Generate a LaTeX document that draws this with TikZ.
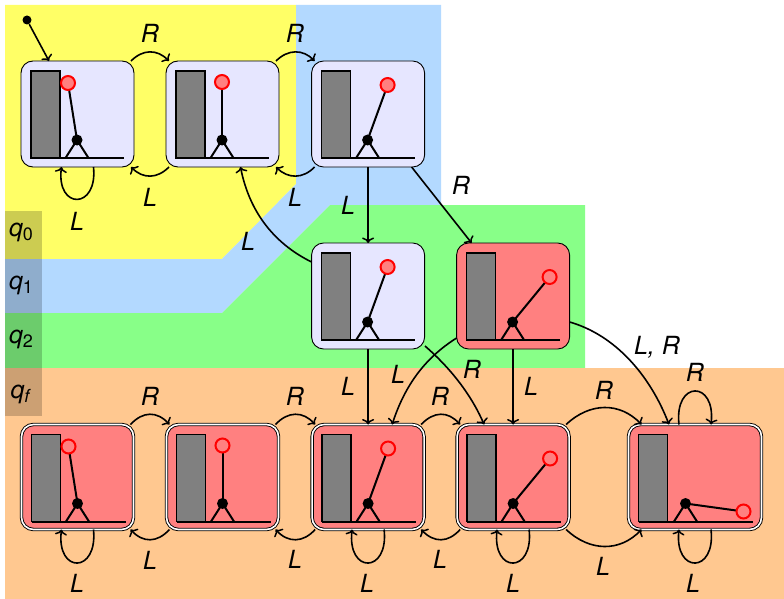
\documentclass[tikz,border=0pt]{standalone}
\usepackage{fontspec}
\setmainfont{TeX Gyre Heros}
\usetikzlibrary{arrows.meta,calc}
\definecolor{ylw}{HTML}{FFFF66}
\definecolor{blu}{HTML}{B3D9FF}
\definecolor{grn}{HTML}{88FF88}
\definecolor{org}{HTML}{FFC890}
\definecolor{lav}{HTML}{E6E6FF}
\definecolor{pnk}{HTML}{FF8080}
\tikzset{
  st/.style={draw=black,line width=0.9pt,rounded corners=12pt,minimum width=113pt,minimum height=106pt,inner sep=0pt,outer sep=0pt},
  plainst/.style={st,fill=lav},
  badst/.style={st,fill=pnk},
  finalst/.style={st,fill=pnk,double=white,double distance=1.6pt,minimum width=112pt,minimum height=105pt},
  arr/.style={line width=1.6pt,-{Computer Modern Rightarrow[length=5.5pt,width=12pt,line width=1.5pt]}},
  lbl/.style={font=\fontsize{25}{25}\selectfont\itshape,inner sep=0pt},
  qlbl/.style={font=\fontsize{25}{25}\selectfont\itshape,inner sep=0pt},
  sidebox/.style={fill=black,fill opacity=0.2,draw=none,minimum width=37pt,inner sep=0pt,outer sep=0pt},
  wallbar/.style={draw=black,line width=1.7pt,fill=black!50},
  rod/.style={line width=2pt,black},
  pivotdot/.style={circle,fill=black,inner sep=0pt,minimum size=11pt},
  bob/.style={circle,draw=red,line width=2pt,minimum size=14pt,inner sep=0pt},
}
% #1 node name, #2 bob dx, #3 bob dy, #4 bob fill, #5 pivot dx, #6 ground length
\newcommand{\pend}[6]{
  \draw[wallbar] ($(#1.north west)+(10,10)$) rectangle ($(#1.north west)+(39,97)$);
  \draw[rod] ($(#1.north west)+(10,97)$) -- ($(#1.north west)+(#6,97)$);
  \draw[rod] ($(#1.north west)+(#5-11.5,97)$) -- ($(#1.north west)+(#5,79)$) -- ($(#1.north west)+(#5+11.5,97)$);
  \draw[rod] ($(#1.north west)+(#5,79)$) -- ($(#1.north west)+(#2,#3)$);
  \node[pivotdot] at ($(#1.north west)+(#5,79)$) {};
  \node[bob,fill=#4] at ($(#1.north west)+(#2,#3)$) {};
}
\begin{document}
\begin{tikzpicture}[x=1pt,y=-1pt]
\useasboundingbox (0,0) rectangle (784,599);
\fill[ylw] (5,5) -- (296,5) -- (296,184) -- (222,259) -- (5,259) -- cycle;
\fill[blu] (296,5) -- (441,5) -- (441,205) -- (330,205) -- (222,313) -- (5,313) -- (5,259) -- (222,259) -- (296,184) -- cycle;
\fill[grn] (330,205) -- (585,205) -- (585,368) -- (5,368) -- (5,313) -- (222,313) -- cycle;
\fill[org] (5,368) -- (784,368) -- (784,599) -- (5,599) -- cycle;
\node[sidebox,minimum height=48pt] (s0) at (23.5,235) {};
\node[sidebox,minimum height=54pt] (s1) at (23.5,286) {};
\node[sidebox,minimum height=55pt] (s2) at (23.5,340.5) {};
\node[sidebox,minimum height=48pt] (s3) at (23.5,392) {};
\node[qlbl] (q0) at (21,232) {q\raisebox{-4pt}{\fontsize{18}{18}\selectfont\upshape 0}};
\node[qlbl] (q1) at (21,285) {q\raisebox{-4pt}{\fontsize{18}{18}\selectfont\upshape 1}};
\node[qlbl] (q2) at (21,339) {q\raisebox{-4pt}{\fontsize{18}{18}\selectfont\upshape 2}};
\node[qlbl] (qf) at (20,394) {q\raisebox{-4pt}{\fontsize{18}{18}\selectfont f}};

\node[plainst] (A) at (77.5,114) {};
\node[plainst] (B) at (222.5,114) {};
\node[plainst] (C) at (368.1,114) {};
\node[plainst] (D) at (368.1,296) {};
\node[badst] (E) at (513.1,296) {};
\node[finalst] (F) at (77.5,477) {};
\node[finalst] (G) at (222.5,477) {};
\node[finalst] (H) at (368.1,477) {};
\node[finalst] (I) at (513.1,477) {};
\node[finalst,minimum width=133pt] (J) at (695,477) {};

\pend{A}{47}{22}{pnk}{56}{103}
\pend{B}{56}{21}{pnk}{56}{103}
\pend{C}{76}{24}{pnk}{56}{103}
\pend{D}{76}{24}{pnk}{56}{103}
\pend{E}{93}{34}{pnk}{56}{103}
\pend{F}{47}{22}{pnk}{56}{104}
\pend{G}{56}{21}{pnk}{56}{104}
\pend{H}{76}{24}{pnk}{56}{104}
\pend{I}{93}{34}{pnk}{56}{104}
\pend{J}{115}{87}{pnk}{57}{124}

\node[circle,fill=black,inner sep=0pt,minimum size=9pt] (init) at (27,20) {};
\draw[arr] (init) -- ([xshift=-28.5pt]A.north);

\draw[arr] ([xshift=-3pt]A.north east) .. controls (143,49) and (157,49) .. ([xshift=3pt]B.north west);
\draw[arr] ([xshift=-3pt]B.north east) .. controls (288,49) and (303,49) .. ([xshift=3pt]C.north west);
\draw[arr] ([xshift=3pt]B.south west) .. controls (157,179) and (143,179) .. ([xshift=-3pt]A.south east);
\draw[arr] ([xshift=3pt]C.south west) .. controls (303,179) and (288,179) .. ([xshift=-3pt]B.south east);
\draw[arr] ([xshift=16pt]A.south) .. controls (98,210) and (56,210) .. ([xshift=-16pt]A.south);
\draw[arr] (C.south) -- (D.north);
\draw[arr] ([xshift=-13pt]C.south east) -- ([xshift=15pt]E.north west);
\draw[arr] (D.west |- 0,262) .. controls (277,245) and (250,215) .. ([xshift=18pt]B.south);
\draw[arr] (D.south) -- (H.north);
\draw[arr] (425,346) .. controls (448,366) and (470,392) .. ([xshift=-29pt]I.north);
\draw[arr] (E.west |- 0,338) .. controls (425,358) and (405,385) .. ([xshift=24pt]H.north);
\draw[arr] (E.south) -- (I.north);
\draw[arr] (E.east |- 0,322) .. controls (615,335) and (650,375) .. ([xshift=-26pt]J.north);

\draw[arr] ([xshift=-3pt]F.north east) .. controls (143,411) and (157,411) .. ([xshift=3pt]G.north west);
\draw[arr] ([xshift=-3pt]G.north east) .. controls (288,411) and (303,411) .. ([xshift=3pt]H.north west);
\draw[arr] ([xshift=-3pt]H.north east) .. controls (434,411) and (448,411) .. ([xshift=3pt]I.north west);
\draw[arr] ([xshift=3pt]G.south west) .. controls (157,543) and (143,543) .. ([xshift=-3pt]F.south east);
\draw[arr] ([xshift=3pt]H.south west) .. controls (303,543) and (288,543) .. ([xshift=-3pt]G.south east);
\draw[arr] ([xshift=3pt]I.south west) .. controls (448,543) and (434,543) .. ([xshift=-3pt]H.south east);
\draw[arr] ([xshift=-3pt]I.north east) .. controls (590,402) and (620,402) .. ([xshift=13pt]J.north west);
\draw[arr] ([xshift=-3pt]I.south east) .. controls (590,552) and (620,552) .. ([xshift=13pt]J.south west);
\draw[arr] ([xshift=16pt]F.south) .. controls (98,574) and (56,574) .. ([xshift=-16pt]F.south);
\draw[arr] ([xshift=16pt]H.south) .. controls (389,574) and (347,574) .. ([xshift=-16pt]H.south);
\draw[arr] ([xshift=16pt]I.south) .. controls (534,574) and (492,574) .. ([xshift=-16pt]I.south);
\draw[arr] ([xshift=16pt]J.south) .. controls (716,574) and (674,574) .. ([xshift=-16pt]J.south);
\draw[arr] ([xshift=-16pt]J.north) .. controls (674,380) and (716,380) .. ([xshift=16pt]J.north);

\node[lbl] (l1) at (150,33) {R};
\node[lbl] (l2) at (295,33) {R};
\node[lbl] (l3) at (150,197) {L};
\node[lbl] (l3b) at (295,197) {L};
\node[lbl] (l4) at (77,221) {L};
\node[lbl] (l5) at (348,205) {L};
\node[lbl] (l6) at (461,185) {R};
\node[lbl] (l7) at (248,241) {L};
\node[lbl] (l8) at (348,386) {L};
\node[lbl] (l9) at (398,374) {L};
\node[lbl] (l10) at (472,369) {R};
\node[lbl] (l11) at (531,386) {L};
\node[lbl] (l12) at (657,347) {L, R};
\node[lbl] (l13) at (150,396) {R};
\node[lbl] (l14) at (295,396) {R};
\node[lbl] (l15) at (440,396) {R};
\node[lbl] (l16) at (604,390) {R};
\node[lbl] (l17) at (695,372) {R};
\node[lbl] (l18) at (150,560) {L};
\node[lbl] (l19) at (295,559) {L};
\node[lbl] (l19b) at (440,559) {L};
\node[lbl] (l20) at (77,583) {L};
\node[lbl] (l21) at (367,583) {L};
\node[lbl] (l22) at (513,583) {L};
\node[lbl] (l23) at (603,566) {L};
\node[lbl] (l24) at (693,583) {L};
\end{tikzpicture}
\end{document}
